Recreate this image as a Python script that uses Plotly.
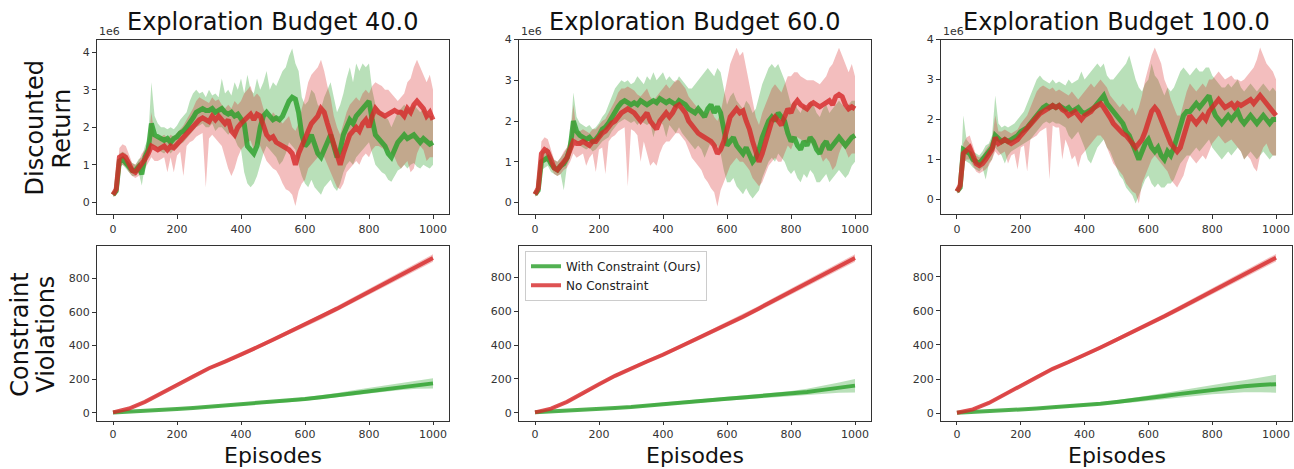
import plotly.graph_objects as go

# ---------------- data ----------------
episodes = list(range(0, 1001, 10))
episodes_c = list(range(0, 1001, 50))
budgets = ["40.0", "60.0", "100.0"]
series_names = ["With Constraint (Ours)", "No Constraint"]

# Discounted return (x 1e6), Budget 40
g1_mean = [0.2,0.3,1.1,1.15,1.05,0.95,0.85,0.85,0.95,0.75,
           1.2,1.4,2.1,1.8,1.75,1.7,1.65,1.7,1.6,1.7,
           1.75,1.85,1.9,2.0,2.1,2.25,2.4,2.45,2.5,2.45,
           2.45,2.5,2.4,2.45,2.5,2.4,2.35,2.4,2.3,2.35,
           2.25,2.1,1.5,1.4,1.3,1.5,2.0,2.3,2.4,2.3,
           2.2,2.25,2.2,2.3,2.5,2.7,2.8,2.75,2.4,1.8,
           1.5,1.6,1.8,1.5,1.3,1.2,1.4,1.6,1.8,1.5,
           1.2,1.4,1.8,2.0,2.2,2.1,2.3,2.4,2.5,2.6,
           2.7,2.2,1.8,1.7,1.6,1.5,1.3,1.2,1.4,1.6,
           1.7,1.8,1.7,1.75,1.8,1.7,1.6,1.7,1.6,1.55,
           1.6]
g1_high = [0.25,0.5,1.3,1.35,1.3,1.15,1.05,1.0,1.15,1.2,
           1.5,1.7,3.2,2.3,2.1,2.0,2.0,1.95,2.0,1.95,
           2.05,2.2,2.3,2.4,2.7,2.9,3.0,2.9,2.95,2.8,
           3.0,2.85,2.9,2.8,3.3,2.9,3.0,2.85,3.2,3.0,
           3.3,2.9,3.4,3.0,2.9,3.3,3.0,3.2,3.5,3.0,
           3.2,3.1,3.3,3.5,3.6,3.9,4.1,3.7,3.5,2.8,
           2.6,2.7,3.0,2.9,2.6,2.5,2.8,3.0,3.2,2.8,
           2.4,2.6,2.9,3.3,3.6,3.2,3.7,3.5,3.7,3.6,
           3.7,3.0,2.6,2.5,2.4,2.3,2.2,2.0,2.2,2.4,
           2.5,2.6,2.5,2.5,2.6,2.5,2.4,2.5,2.4,2.3,
           2.3]
g1_low = [0.15,0.2,0.9,1.0,0.9,0.8,0.7,0.7,0.8,0.45,
          1.0,1.2,1.5,1.5,1.4,1.35,1.3,1.4,1.3,1.4,
          1.45,1.55,1.6,1.7,1.8,1.9,2.0,2.05,2.1,2.0,
          2.0,2.1,1.9,2.0,2.0,1.9,1.8,1.9,1.7,1.5,
          1.4,0.8,0.5,0.4,0.5,0.7,1.0,1.3,1.5,1.4,
          1.3,1.2,1.0,1.1,1.3,1.6,1.5,1.4,1.0,0.7,
          0.5,0.4,0.6,0.4,0.3,0.2,0.4,0.5,0.6,0.4,
          0.3,0.5,0.8,1.0,1.1,1.0,1.2,1.3,1.4,1.5,
          1.6,1.3,1.0,0.9,0.8,0.75,0.6,0.55,0.7,0.85,
          0.9,1.0,0.9,1.0,1.05,0.95,0.9,1.0,0.95,0.9,
          1.0]
r1_mean = [0.2,0.35,1.2,1.25,1.2,1.0,0.85,0.8,0.9,1.05,
           1.15,1.3,1.5,1.45,1.4,1.45,1.5,1.4,1.5,1.45,
           1.55,1.65,1.75,1.85,1.95,2.0,2.1,2.2,2.25,2.2,
           2.15,2.3,2.2,2.3,2.2,2.1,2.2,1.9,1.8,2.0,
           2.1,2.2,2.3,2.35,2.2,2.35,2.3,2.0,1.8,1.7,
           1.75,1.6,1.55,1.5,1.45,1.4,1.3,1.0,1.3,1.5,
           1.7,1.9,2.1,2.2,2.3,2.5,2.4,2.1,1.8,1.5,
           1.2,1.0,1.3,1.6,1.8,1.9,2.0,1.9,2.1,2.2,
           2.0,2.3,2.5,2.4,2.35,2.3,2.35,2.4,2.45,2.4,
           2.4,2.3,2.5,2.4,2.6,2.7,2.6,2.5,2.3,2.4,
           2.2]
r1_high = [0.25,0.5,1.45,1.55,1.5,1.25,1.05,1.0,1.1,1.3,
           1.4,1.6,2.4,1.75,1.7,1.75,1.8,1.7,1.8,1.75,
           1.85,1.95,2.05,2.2,2.35,2.5,2.7,2.8,2.75,2.7,
           2.65,2.8,2.7,2.75,2.6,2.5,2.6,2.5,2.7,2.6,
           2.7,2.9,3.0,3.1,2.8,2.9,2.8,2.5,2.3,2.2,
           2.4,2.3,2.2,2.1,2.2,2.3,2.0,1.9,2.1,2.5,
           2.8,3.2,3.4,3.5,3.6,3.8,3.5,3.1,2.8,2.3,
           2.0,1.8,2.1,2.4,2.6,2.7,2.8,2.7,2.9,3.0,
           2.9,3.1,3.2,3.15,3.1,3.0,3.0,2.9,2.8,2.7,
           2.8,2.9,3.2,3.3,3.6,3.8,3.6,3.4,3.2,3.4,
           3.0]
r1_low = [0.15,0.2,0.95,1.0,0.95,0.8,0.7,0.65,0.7,0.85,
          0.9,1.05,1.2,1.1,1.1,1.15,1.2,0.8,1.2,0.8,
          1.25,1.35,0.7,1.5,1.6,1.65,1.75,1.8,1.85,0.4,
          1.7,1.8,1.7,1.6,1.5,1.2,0.9,0.7,0.9,1.2,
          1.4,1.5,1.6,1.65,1.4,1.6,1.5,1.3,1.1,1.0,
          0.9,0.85,0.7,0.5,0.35,0.3,0.2,-0.1,0.3,0.5,
          0.6,0.9,1.0,1.1,1.2,1.3,1.2,1.0,0.8,0.6,
          0.4,0.35,0.5,0.8,0.9,1.0,1.1,1.0,1.2,1.3,
          1.2,1.4,1.5,1.5,1.45,1.4,1.4,1.3,1.2,1.0,
          0.9,1.0,1.1,0.8,0.9,1.3,1.5,1.4,1.1,1.2,
          1.2]

# Budget 60
g2_mean = [0.2,0.3,1.0,1.05,1.1,0.95,0.85,0.8,0.9,0.95,
           1.1,1.35,2.0,1.75,1.65,1.6,1.55,1.6,1.5,1.55,
           1.65,1.8,1.85,1.95,2.1,2.2,2.35,2.45,2.5,2.45,
           2.4,2.45,2.4,2.5,2.45,2.4,2.45,2.5,2.45,2.55,
           2.5,2.45,2.5,2.45,2.4,2.5,2.45,2.4,2.3,2.25,
           2.2,2.3,2.2,2.1,2.3,2.4,2.2,2.35,2.2,1.8,
           1.4,1.5,1.6,1.4,1.3,1.2,1.35,1.2,1.0,1.1,
           1.3,1.6,1.8,2.0,2.1,2.0,2.2,2.1,2.0,1.7,
           1.5,1.6,1.4,1.3,1.5,1.4,1.6,1.5,1.3,1.2,
           1.4,1.5,1.3,1.4,1.5,1.6,1.5,1.4,1.5,1.6,
           1.65]
g2_high = [0.25,0.5,1.25,1.3,1.35,1.2,1.05,1.0,1.1,1.2,
           1.35,1.65,2.7,2.1,1.95,1.9,1.85,1.9,1.8,1.85,
           1.95,2.1,2.2,2.4,2.6,2.8,2.9,3.0,2.95,3.0,
           2.9,2.95,3.1,3.0,2.9,3.1,3.0,3.2,3.0,3.1,
           3.2,3.0,3.1,3.0,2.95,3.1,3.0,2.9,2.8,2.8,
           2.9,3.0,3.1,3.2,3.3,3.2,3.1,3.3,3.2,2.8,
           2.4,2.6,2.7,2.5,2.4,2.3,2.5,2.4,2.2,2.3,
           2.6,2.9,3.1,3.3,3.4,3.3,3.4,3.2,3.0,2.7,
           2.4,2.5,2.3,2.2,2.4,2.3,2.5,2.4,2.2,2.1,
           2.3,2.4,2.2,2.3,2.4,2.5,2.4,2.3,2.4,2.5,
           2.5]
g2_low = [0.15,0.2,0.8,0.85,0.9,0.75,0.7,0.65,0.7,0.3,
          0.9,1.1,1.6,1.45,1.4,1.35,1.3,1.35,1.25,1.3,
          1.4,1.5,1.55,1.6,1.75,1.85,1.95,2.0,2.05,2.0,
          1.95,2.0,1.9,2.0,1.95,1.9,1.95,1.6,1.9,2.0,
          1.9,1.6,1.9,1.8,1.7,1.85,1.7,1.6,1.5,1.4,
          1.3,1.4,1.3,1.1,1.3,1.5,1.3,1.4,1.2,0.8,
          0.5,0.5,0.6,0.4,0.3,0.2,0.35,0.2,0.1,0.2,
          0.3,0.6,0.8,1.0,1.1,1.0,1.2,1.1,1.0,0.8,
          0.7,0.8,0.6,0.5,0.7,0.6,0.8,0.7,0.5,0.5,
          0.6,0.7,0.5,0.6,0.7,0.8,0.7,0.6,0.7,0.9,
          1.0]
r2_mean = [0.2,0.35,1.2,1.3,1.25,1.05,0.85,0.8,0.9,1.0,
           1.1,1.3,1.5,1.45,1.45,1.5,1.45,1.4,1.5,1.5,
           1.6,1.7,1.75,1.85,1.95,2.0,2.1,2.2,2.25,2.3,
           2.25,2.2,2.1,2.0,2.1,2.2,2.0,1.9,1.8,2.0,
           2.1,2.2,2.1,2.2,2.35,2.4,2.3,2.2,2.0,1.9,
           1.8,1.7,1.65,1.6,1.55,1.5,1.4,1.2,1.3,1.5,
           1.8,2.1,2.2,2.3,2.2,2.25,2.0,1.8,1.5,1.2,
           1.0,1.2,1.5,1.8,2.0,2.1,2.0,1.9,2.1,2.3,
           2.2,2.4,2.5,2.4,2.35,2.3,2.4,2.45,2.4,2.35,
           2.4,2.45,2.5,2.4,2.6,2.65,2.6,2.4,2.3,2.35,
           2.3]
r2_high = [0.25,0.5,1.5,1.6,1.55,1.3,1.05,1.0,1.1,1.25,
           1.35,1.6,2.4,1.75,1.75,1.8,1.75,1.7,1.8,1.8,
           1.9,2.0,2.05,2.2,2.35,2.5,2.7,2.8,2.8,2.85,
           2.8,2.75,2.65,2.6,2.7,2.8,2.6,2.5,2.6,2.7,
           2.8,2.9,2.8,2.9,3.0,3.0,2.9,2.8,2.6,2.5,
           2.4,2.3,2.3,2.2,2.2,2.3,2.1,2.0,2.2,2.6,
           3.0,3.4,3.6,3.8,3.6,3.7,3.3,2.9,2.5,2.1,
           1.9,2.2,2.4,2.6,2.8,2.9,2.8,2.7,2.9,3.1,
           3.1,3.2,3.2,3.1,3.05,3.0,3.0,3.0,2.95,2.9,
           3.0,3.1,3.3,3.4,3.6,3.8,3.6,3.4,3.2,3.4,
           3.1]
r2_low = [0.15,0.2,0.95,1.0,1.0,0.85,0.7,0.65,0.7,0.8,
          0.85,1.0,1.2,1.1,1.15,1.2,0.9,1.1,1.2,0.75,
          1.3,1.35,0.7,1.5,1.6,1.65,1.75,1.8,1.85,0.4,
          1.8,1.75,1.65,1.0,1.5,1.2,0.9,1.0,0.9,1.2,
          1.4,1.5,1.5,1.6,1.7,1.7,1.6,1.5,1.3,1.1,
          1.0,0.9,0.8,0.6,0.5,0.35,0.25,-0.1,0.3,0.5,
          0.7,0.9,1.0,1.1,1.0,1.0,0.9,0.8,0.6,0.5,
          0.4,0.5,0.7,0.9,1.0,1.1,1.0,1.0,1.2,1.4,
          1.3,1.5,1.6,1.55,1.5,1.45,1.5,1.4,1.3,1.2,
          1.0,1.1,1.0,0.8,0.9,1.2,1.4,1.3,1.1,1.2,
          1.2]

# Budget 100
g3_mean = [0.2,0.3,1.25,1.2,1.15,1.0,0.95,0.9,1.0,1.1,
           1.15,1.3,1.6,1.5,1.45,1.5,1.45,1.5,1.55,1.6,
           1.7,1.75,1.8,1.9,2.0,2.1,2.2,2.3,2.35,2.3,
           2.35,2.3,2.35,2.3,2.25,2.3,2.2,2.25,2.3,2.2,
           2.15,2.2,2.25,2.3,2.4,2.5,2.6,2.4,2.3,2.2,
           2.1,2.0,1.9,1.7,1.6,1.4,1.2,1.0,1.2,1.4,
           1.5,1.3,1.2,1.3,1.1,1.0,1.2,1.1,1.3,1.6,
           1.9,2.1,2.2,2.2,2.3,2.4,2.3,2.4,2.5,2.6,
           2.3,2.1,2.0,1.9,2.0,2.1,2.0,2.1,2.2,2.0,
           1.9,2.0,2.1,2.0,1.9,2.0,2.1,2.0,1.9,2.0,
           2.0]
g3_high = [0.25,0.5,2.1,1.5,1.4,1.2,1.15,1.1,1.2,1.35,
           1.4,1.6,2.6,1.9,1.8,1.85,1.8,1.85,1.9,2.0,
           2.1,2.2,2.4,2.6,2.8,3.0,3.1,3.0,2.95,2.9,
           3.0,2.9,2.95,2.9,2.85,3.0,2.9,2.95,3.0,3.2,
           3.0,3.1,3.2,3.3,3.4,3.3,3.4,3.1,3.0,3.0,
           3.1,3.2,3.3,3.4,3.6,3.3,3.0,2.8,2.7,2.9,
           3.0,3.4,3.1,3.0,2.8,2.6,2.8,2.7,2.8,3.0,
           3.2,3.3,3.2,3.1,3.2,3.3,3.2,3.2,3.3,3.3,
           3.1,3.0,2.9,2.8,2.8,2.9,2.8,2.9,3.0,2.8,
           2.7,2.8,2.9,2.8,2.7,2.8,2.9,2.8,2.7,2.8,
           2.7]
g3_low = [0.15,0.2,1.0,0.95,0.9,0.8,0.75,0.7,0.8,0.5,
          0.9,1.0,1.3,1.2,1.1,0.9,1.1,1.2,1.25,1.3,
          1.35,1.4,1.45,1.5,1.6,1.7,1.8,1.9,1.95,1.9,
          1.95,1.9,1.9,1.85,1.8,1.6,1.5,1.6,1.7,1.5,
          1.3,1.0,0.9,1.1,1.3,1.4,1.5,1.3,1.2,1.0,
          0.8,0.6,0.5,0.3,0.2,0.1,-0.1,0.1,0.3,0.5,
          0.6,0.4,0.3,0.4,0.3,0.3,0.4,0.4,0.5,0.7,
          0.9,1.0,1.1,1.1,1.2,1.3,1.2,1.3,1.4,1.5,
          1.3,1.2,1.1,1.0,1.1,1.2,1.1,1.2,1.3,1.2,
          1.0,1.1,1.2,1.1,1.0,1.1,1.2,1.1,1.0,1.1,
          1.1]
r3_mean = [0.2,0.35,1.15,1.25,1.3,1.1,0.9,0.85,0.9,1.0,
           1.1,1.25,1.55,1.4,1.45,1.5,1.45,1.4,1.45,1.5,
           1.6,1.7,1.8,1.9,1.95,2.05,2.15,2.2,2.25,2.3,
           2.35,2.3,2.35,2.25,2.2,2.1,2.15,2.2,2.1,2.0,
           2.1,2.15,2.2,2.3,2.35,2.4,2.3,2.2,2.05,1.9,
           1.8,1.7,1.65,1.6,1.5,1.45,1.3,1.4,1.5,1.7,
           2.0,2.2,2.3,2.2,2.0,1.8,1.6,1.4,1.3,1.2,
           1.3,1.6,1.9,2.1,2.0,1.9,2.0,2.1,2.0,2.2,
           2.3,2.4,2.5,2.4,2.3,2.35,2.4,2.3,2.4,2.35,
           2.4,2.45,2.5,2.4,2.5,2.6,2.5,2.4,2.3,2.2,
           2.1]
r3_high = [0.25,0.5,1.4,1.55,1.6,1.35,1.1,1.05,1.1,1.25,
           1.35,1.5,2.1,1.7,1.7,1.75,1.7,1.65,1.7,1.75,
           1.9,2.0,2.1,2.3,2.5,2.7,2.8,2.85,2.8,2.75,
           2.8,2.7,2.75,2.7,2.65,2.6,2.7,2.6,2.5,2.6,
           2.7,2.8,2.9,2.8,2.9,3.0,2.9,2.8,2.6,2.5,
           2.4,2.3,2.4,2.3,2.2,2.3,2.1,2.3,2.6,3.0,
           3.3,3.6,3.8,3.6,3.4,3.0,2.8,2.5,2.3,2.1,
           2.1,2.4,2.7,2.9,2.8,2.7,2.8,2.9,2.8,3.0,
           3.0,3.1,3.2,3.1,3.0,3.05,3.1,3.0,3.0,2.95,
           3.0,3.1,3.2,3.3,3.5,3.8,3.6,3.4,3.3,3.2,
           3.0]
r3_low = [0.15,0.2,0.9,1.0,1.0,0.85,0.7,0.65,0.7,0.75,
          0.85,1.0,1.2,1.1,1.15,1.2,0.9,1.1,1.15,0.75,
          1.3,1.35,0.7,1.5,1.55,1.6,1.7,1.75,1.8,0.5,
          1.85,1.8,1.8,1.0,1.5,1.3,1.0,1.1,0.8,1.1,
          1.2,1.3,1.4,1.5,1.6,1.6,1.5,1.3,1.1,0.9,
          0.8,0.7,0.6,0.4,0.3,0.2,0.15,-0.1,0.4,0.6,
          0.8,1.0,1.1,1.0,0.9,0.8,0.7,0.5,0.4,0.3,
          0.45,0.6,0.9,1.1,1.0,0.9,1.0,1.1,1.0,1.2,
          1.4,1.5,1.6,1.5,1.4,1.45,1.5,1.4,1.3,1.2,
          1.0,1.1,1.0,0.8,0.7,1.1,1.3,1.4,1.2,1.1,
          1.1]

# Cumulative constraint violations (every 50 episodes)
g1_cv = [2,6,10,15,22,28,35,42,50,57,65,72,82,92,104,118,132,145,157,167,175]
g1_cv_low = [0,4,8,12,18,24,30,36,43,50,57,63,71,80,90,102,115,126,136,143,145]
g1_cv_high = [4,8,12,18,26,32,40,48,57,64,73,81,93,104,118,134,149,164,178,191,205]
r1_cv = [2,25,65,115,170,220,265,305,345,390,435,480,525,570,620,670,720,770,820,870,922]
r1_cv_low = [0,20,58,107,162,211,256,295,334,378,422,466,510,555,604,653,702,751,800,849,900]
r1_cv_high = [4,30,72,123,178,229,274,315,356,402,448,494,540,585,636,687,738,789,840,891,944]

g2_cv = [2,6,10,15,21,27,33,42,52,60,68,75,83,90,97,104,112,123,135,148,160]
g2_cv_low = [0,4,8,12,17,22,28,35,44,51,58,64,71,77,83,89,96,104,112,118,120]
g2_cv_high = [4,8,12,18,25,32,38,49,60,69,78,86,95,103,111,119,128,142,158,178,200]
r2_cv = [2,24,64,113,168,218,263,303,343,387,432,477,522,568,617,667,716,765,815,865,915]
r2_cv_low = [0,19,57,105,160,209,254,293,332,375,419,463,507,553,601,650,698,746,795,844,893]
r2_cv_high = [4,29,71,121,176,227,272,313,354,399,445,491,537,583,633,684,734,784,835,886,937]

g3_cv = [2,6,10,15,21,27,34,40,47,55,65,75,88,100,113,125,137,148,158,165,170]
g3_cv_low = [0,4,8,12,17,22,28,33,39,46,55,63,73,82,92,101,110,117,123,123,120]
g3_cv_high = [4,8,12,18,25,32,40,47,55,64,75,87,103,118,134,149,164,179,193,208,225]
r3_cv = [2,22,60,110,165,215,260,300,340,385,430,475,522,568,617,666,715,764,813,862,912]
r3_cv_low = [0,17,53,102,157,206,251,290,329,373,417,461,507,553,601,649,697,745,793,841,890]
r3_cv_high = [4,27,67,118,173,224,269,310,351,397,443,489,537,583,633,683,733,783,833,883,934]

returns = [
    (g1_mean, g1_low, g1_high, r1_mean, r1_low, r1_high),
    (g2_mean, g2_low, g2_high, r2_mean, r2_low, r2_high),
    (g3_mean, g3_low, g3_high, r3_mean, r3_low, r3_high),
]
violations = [
    (g1_cv, g1_cv_low, g1_cv_high, r1_cv, r1_cv_low, r1_cv_high),
    (g2_cv, g2_cv_low, g2_cv_high, r2_cv, r2_cv_low, r2_cv_high),
    (g3_cv, g3_cv_low, g3_cv_high, r3_cv, r3_cv_low, r3_cv_high),
]
for grp in returns:
    for arr in grp:
        assert len(arr) == len(episodes), len(arr)
for grp in violations:
    for arr in grp:
        assert len(arr) == len(episodes_c), len(arr)

# ---------------- style ----------------
W, H = 1294, 469
FONT = "DejaVu Sans"
GREEN_LINE = "rgba(44,160,44,0.82)"
RED_LINE = "rgba(214,39,40,0.8)"
GREEN_FILL = "rgba(44,160,44,0.33)"
RED_FILL = "rgba(214,39,40,0.3)"

x_px = [(97, 449), (519, 871), (941, 1292)]
top_px = (34, 211)
bot_px = (243, 420)
top_ranges = [(-0.32, 4.34), (-0.29, 4.0), (-0.37, 4.0)]
bot_ranges = [(-47, 994), (-47, 987), (-44, 981)]

fig = go.Figure()
layout = {}
annotations = []


def xd(a, b):
    return [a / W, b / W]


def yd(t, b):
    return [1 - b / H, 1 - t / H]


def add_band(x, lo, hi, fill, xa, ya):
    fig.add_trace(go.Scatter(x=x, y=lo, mode="lines", line=dict(width=0, color=fill),
                             xaxis=xa, yaxis=ya, showlegend=False, hoverinfo="skip"))
    fig.add_trace(go.Scatter(x=x, y=hi, mode="lines", line=dict(width=0, color=fill),
                             fill="tonexty", fillcolor=fill,
                             xaxis=xa, yaxis=ya, showlegend=False, hoverinfo="skip"))


idx = 1
for col in range(3):
    for row in range(2):
        xa = "x" if idx == 1 else f"x{idx}"
        ya = "y" if idx == 1 else f"y{idx}"
        if row == 0:
            gm, gl, gh, rm, rl, rh = returns[col]
            xs = episodes
            lw = 5
        else:
            gm, gl, gh, rm, rl, rh = violations[col]
            xs = episodes_c
            lw = 4
        add_band(xs, gl, gh, GREEN_FILL, xa, ya)
        add_band(xs, rl, rh, RED_FILL, xa, ya)
        fig.add_trace(go.Scatter(x=xs, y=gm, mode="lines", name=series_names[0],
                                 line=dict(color=GREEN_LINE, width=lw),
                                 xaxis=xa, yaxis=ya,
                                 showlegend=(row == 1 and col == 1)))
        fig.add_trace(go.Scatter(x=xs, y=rm, mode="lines", name=series_names[1],
                                 line=dict(color=RED_LINE, width=lw),
                                 xaxis=xa, yaxis=ya,
                                 showlegend=(row == 1 and col == 1)))

        axis_common = dict(showline=True, mirror=True, linecolor="#333", linewidth=1,
                           ticks="outside", ticklen=4, tickcolor="#333", tickwidth=1,
                           showgrid=False, zeroline=False,
                           tickfont=dict(family=FONT, size=11, color="#333"))
        kx = "xaxis" if idx == 1 else f"xaxis{idx}"
        ky = "yaxis" if idx == 1 else f"yaxis{idx}"
        layout[kx] = dict(axis_common, domain=xd(*x_px[col]), range=[-50, 1050],
                          tickvals=[0, 200, 400, 600, 800, 1000], anchor=ya)
        if row == 0:
            layout[ky] = dict(axis_common, domain=yd(*top_px), range=list(top_ranges[col]),
                              tickvals=[0, 1, 2, 3, 4], anchor=xa)
        else:
            layout[kx]["ticklen"] = 3
            layout[ky] = dict(axis_common, domain=yd(*bot_px), range=list(bot_ranges[col]),
                              tickvals=[0, 200, 400, 600, 800], anchor=xa)
        idx += 1

    cx = (x_px[col][0] + x_px[col][1]) / 2 / W
    annotations.append(dict(text=f"Exploration Budget {budgets[col]}", x=cx, y=1 - 16 / H,
                            xref="paper", yref="paper", xanchor="center", yanchor="middle",
                            showarrow=False, font=dict(family=FONT, size=24, color="#111")))
    annotations.append(dict(text="1e6", x=x_px[col][0] / W, y=1 - 26 / H,
                            xref="paper", yref="paper", xanchor="left", yanchor="middle",
                            showarrow=False, font=dict(family=FONT, size=11, color="#333")))
    annotations.append(dict(text="Episodes", x=cx, y=0,
                            xref="paper", yref="paper", xanchor="center", yanchor="bottom",
                            showarrow=False, borderpad=0,
                            font=dict(family=FONT, size=22, color="#111")))

ylabels = [("Discounted", 35, 124), ("Return", 62, 124),
           ("Constraint", 20, 333), ("Violations", 46, 333)]
for txt, px, py in ylabels:
    annotations.append(dict(text=txt, x=px / W, y=1 - py / H,
                            xref="paper", yref="paper", xanchor="center", yanchor="middle",
                            textangle=-90, showarrow=False,
                            font=dict(family=FONT, size=24, color="#111")))

fig.update_layout(
    width=W, height=H,
    margin=dict(l=0, r=0, t=0, b=0),
    paper_bgcolor="white", plot_bgcolor="white",
    font=dict(family=FONT),
    annotations=annotations,
    legend=dict(x=525 / W, y=1 - 248 / H, xanchor="left", yanchor="top",
                traceorder="normal",
                bgcolor="rgba(255,255,255,0.9)", bordercolor="#ccc", borderwidth=1,
                font=dict(family=FONT, size=12, color="#222"),
                tracegroupgap=0, itemwidth=30),
    **layout,
)

fig.write_html("out.html", config={"displayModeBar": False},
               post_script="document.body.style.margin='0px';")
